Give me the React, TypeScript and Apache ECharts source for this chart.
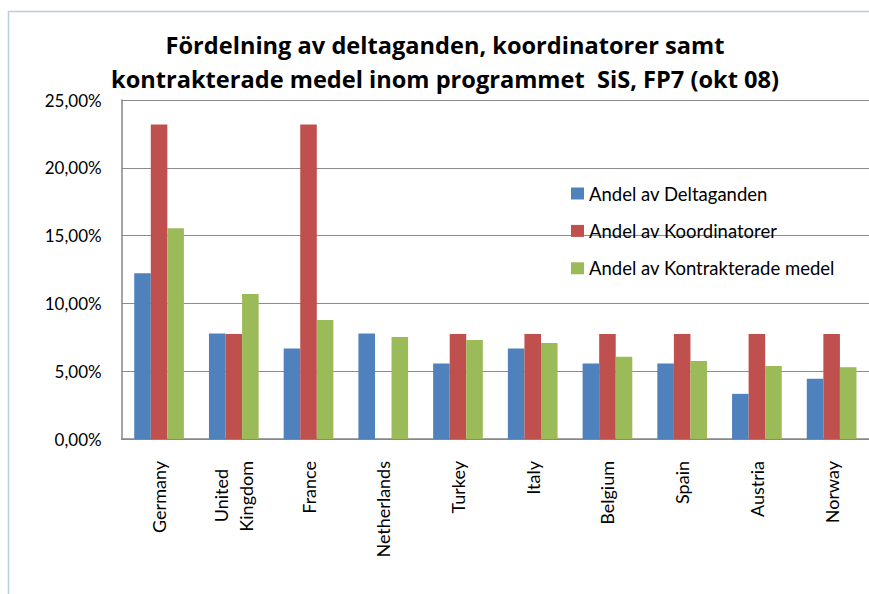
import React, { useEffect, useRef } from "react";
import * as echarts from "echarts";

const countries = ["Germany", "United Kingdom", "France", "Netherlands", "Turkey", "Italy", "Belgium", "Spain", "Austria", "Norway"];
const deltaganden = [12.22, 7.78, 6.67, 7.78, 5.56, 6.67, 5.56, 5.56, 3.33, 4.44];
const koordinatorer = [23.2, 7.75, 23.2, 0, 7.75, 7.75, 7.75, 7.75, 7.75, 7.75];
const kontrakterade = [15.54, 10.69, 8.78, 7.52, 7.3, 7.08, 6.07, 5.75, 5.38, 5.29];
const seriesNames = ["Andel av Deltaganden", "Andel av Koordinatorer", "Andel av Kontrakterade medel"];
const titleText = "Fördelning av deltaganden, koordinatorer samt\nkontrakterade medel inom programmet  SiS, FP7 (okt 08)";

const FONT = "Lato";

export default function App() {
  const ref = useRef<HTMLDivElement>(null);
  useEffect(() => {
    const chart = echarts.init(ref.current!, undefined, { renderer: "svg" });
    const colors = ["#4F81BD", "#C0504D", "#9BBB59"];
    const data = [deltaganden, koordinatorer, kontrakterade];
    chart.setOption({
      animation: false,
      backgroundColor: "#ffffff",
      color: colors,
      graphic: [
        {
          type: "rect",
          shape: { x: 8.5, y: 11.5, width: 900, height: 620 },
          style: { fill: "none", stroke: "#b9cde5", lineWidth: 1.5 },
          silent: true,
          z: -10,
        },
      ],
      title: {
        text: titleText,
        left: 445,
        top: 28,
        padding: 0,
        textAlign: "center",
        textStyle: { fontFamily: "Open Sans", fontWeight: "bold", fontSize: 23.6, lineHeight: 34, color: "#000" },
      },
      legend: {
        orient: "vertical",
        left: 571,
        top: 184,
        padding: 0,
        itemWidth: 13,
        itemHeight: 12,
        itemGap: 18.4,
        icon: "rect",
        textStyle: { fontFamily: FONT, fontSize: 18.5, lineHeight: 17, color: "#000" },
        data: seriesNames,
      },
      grid: { left: 121.7, top: 100, right: -4, bottom: 155, containLabel: false },
      xAxis: {
        type: "category",
        data: countries,
        axisLine: { show: true, lineStyle: { color: "#868686", width: 1.5 } },
        axisTick: { show: false },
        axisLabel: {
          rotate: 90,
          margin: 22,
          interval: 0,
          fontFamily: FONT,
          fontSize: 18,
          color: "#000",
          lineHeight: 25,
          formatter: (v: string) => (v === "United Kingdom" ? "{u|United}\n{k|Kingdom}" : v),
          rich: {
            u: { fontFamily: FONT, fontSize: 18, color: "#000", lineHeight: 25, padding: [0, 8, 0, 0] },
            k: { fontFamily: FONT, fontSize: 18, color: "#000", lineHeight: 25 },
          },
        },
      },
      yAxis: {
        type: "value",
        min: 0,
        max: 25,
        interval: 5,
        axisLine: { show: true, lineStyle: { color: "#868686", width: 1.5 } },
        axisTick: { show: false },
        splitLine: { show: true, lineStyle: { color: "#8c8c8c", width: 1.2 } },
        axisLabel: {
          margin: 20,
          fontFamily: FONT,
          fontSize: 17,
          color: "#000",
          formatter: (v: number) => v.toFixed(2).replace(".", ",") + "%",
        },
      },
      series: seriesNames.map((name, i) => ({
        name,
        type: "bar",
        data: data[i],
        barGap: "0%",
        barCategoryGap: "33.5%",
        itemStyle: { color: colors[i] },
      })),
    });
    return () => chart.dispose();
  }, []);
  return <div ref={ref} style={{ position: "fixed", left: 0, top: 0, width: 869, height: 594 }} />;
}
